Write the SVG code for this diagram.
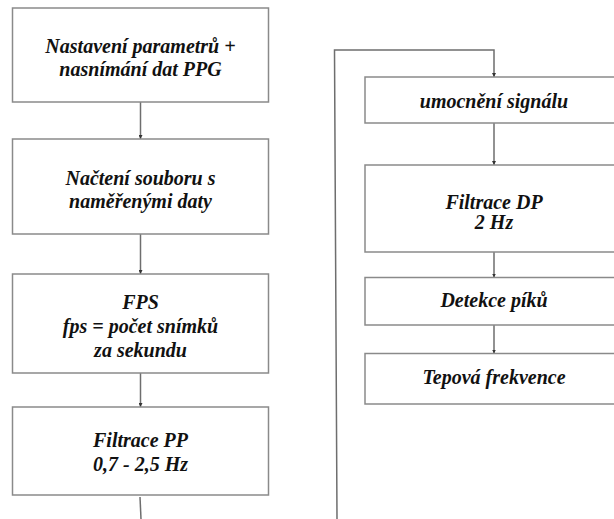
<svg xmlns="http://www.w3.org/2000/svg" width="614" height="519" viewBox="0 0 614 519">
  <defs>
    <style>
      .box { fill: #ffffff; stroke: #8a8a8a; stroke-width: 1.5; }
      .wire { fill: none; stroke: #6e6e6e; stroke-width: 1.5; }
      .lbl { font-family: "Liberation Serif", "Times New Roman", serif; font-size: 20px; font-weight: bold; font-style: italic; fill: #111111; text-anchor: middle; }
    </style>
    <marker id="arrow" viewBox="0 0 6 6" refX="6" refY="3" markerWidth="4" markerHeight="4" markerUnits="userSpaceOnUse" orient="auto">
      <path d="M0,0 L6,3 L0,6 Z" fill="#333333"/>
    </marker>
  </defs>
  <rect width="614" height="519" fill="#ffffff"/>

  <!-- connectors -->
  <g id="connectors">
    <line class="wire" x1="140.5" y1="102" x2="140.5" y2="139" marker-end="url(#arrow)"/>
    <line class="wire" x1="140.5" y1="234" x2="140.5" y2="274" marker-end="url(#arrow)"/>
    <line class="wire" x1="140.5" y1="373" x2="140.5" y2="407" marker-end="url(#arrow)"/>
    <line class="wire" x1="140" y1="497" x2="141" y2="519"/>
    <polyline class="wire" points="337,519 334.5,50 494,50 494,77" marker-end="url(#arrow)"/>
    <line class="wire" x1="494" y1="123" x2="494" y2="165" marker-end="url(#arrow)"/>
    <line class="wire" x1="494" y1="252" x2="494" y2="277.5" marker-end="url(#arrow)"/>
    <line class="wire" x1="494" y1="325" x2="494" y2="353.5" marker-end="url(#arrow)"/>
  </g>

  <!-- left column -->
  <g id="node-nastaveni">
    <rect class="box" x="12.5" y="8" width="256" height="94"/>
    <text class="lbl" x="140.5" y="53">Nastavení parametrů +</text>
    <text class="lbl" x="140.5" y="75.5">nasnímání dat PPG</text>
  </g>
  <g id="node-nacteni">
    <rect class="box" x="12.5" y="139" width="256" height="95"/>
    <text class="lbl" x="140.5" y="185">Načtení souboru s</text>
    <text class="lbl" x="140.5" y="207.5">naměřenými daty</text>
  </g>
  <g id="node-fps">
    <rect class="box" x="12.5" y="274" width="256" height="99"/>
    <text class="lbl" x="140.5" y="309">FPS</text>
    <text class="lbl" x="140.5" y="333">fps = počet snímků</text>
    <text class="lbl" x="140.5" y="356.5">za sekundu</text>
  </g>
  <g id="node-filtrace-pp">
    <rect class="box" x="12.5" y="407" width="256" height="88"/>
    <text class="lbl" x="140.5" y="446.5">Filtrace PP</text>
    <text class="lbl" x="140.5" y="470.5">0,7 - 2,5 Hz</text>
  </g>

  <!-- right column -->
  <g id="node-umocneni">
    <rect class="box" x="365" y="77" width="260" height="46"/>
    <text class="lbl" x="494" y="107.5">umocnění signálu</text>
  </g>
  <g id="node-filtrace-dp">
    <rect class="box" x="365" y="165" width="260" height="87"/>
    <text class="lbl" x="494" y="209">Filtrace DP</text>
    <text class="lbl" x="494" y="229">2 Hz</text>
  </g>
  <g id="node-detekce">
    <rect class="box" x="365" y="277.5" width="260" height="47.5"/>
    <text class="lbl" x="494" y="306.5">Detekce píků</text>
  </g>
  <g id="node-tepova">
    <rect class="box" x="365" y="353.5" width="260" height="50.5"/>
    <text class="lbl" x="494" y="384">Tepová frekvence</text>
  </g>
</svg>
